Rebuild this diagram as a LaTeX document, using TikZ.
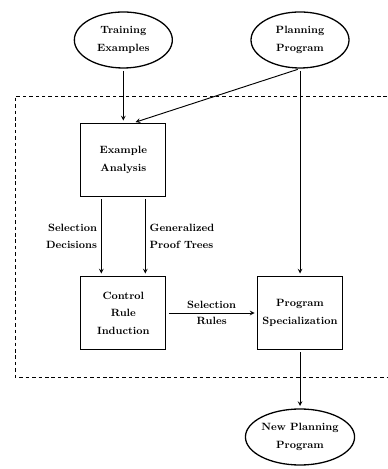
\documentclass[tikz,border=0pt]{standalone}
\usetikzlibrary{shapes.geometric,arrows}

\tikzstyle{Ends} = [draw, ellipse, line width=1.1pt,
                    minimum width=2.94cm,
                    minimum height=1.68cm,
                    inner sep=0pt, align=center,
                    font=\fontsize{9}{15}\selectfont\bfseries]
\tikzstyle{Steps} = [draw, rectangle, line width=1.1pt,
                     minimum width=2.55cm,
                     minimum height=2.19cm,
                     inner sep=0pt, align=center,
                     font=\fontsize{9}{15}\selectfont\bfseries]
\tikzstyle{Flow} = [->, >=stealth, thick,
                    shorten >=2pt, shorten <=2pt]
\tikzstyle{Tag} = [font=\fontsize{9}{15}\selectfont\bfseries]

\begin{document}
\begin{tikzpicture}

    \useasboundingbox (0, 0) rectangle (11.61, 14.07);

    % Input and output nodes
    \node (training) at (3.7, 12.87) [Ends]{Training\\Examples};
    \node (planning) at (9.0, 12.87) [Ends]{Planning\\Program};
    \node (newplan) at (9.0, 0.96) [Ends]{New Planning\\Program};

    % Learning steps
    \node (analysis) at (3.7, 9.27) [Steps]{Example\\Analysis};
    \node (induction) at (3.7, 4.68) [Steps]{Control\\Rule\\Induction};
    \node (special) at (9.0, 4.68) [Steps]{Program\\Specialization};

    % Dashed system border
    \draw [thick, dash pattern=on 3pt off 2.5pt]
        (11.61, 11.19) -- (0.45, 11.19) -- (0.45, 2.76) -- (11.61, 2.76);

    % Lines
    \draw [Flow] (training) -- (training |- analysis.north);
    \draw [Flow] (planning.south) -- ([xshift=0.3cm]analysis.north);
    \draw [Flow] (planning.south) -- (special.north);

    \draw [Flow] ([xshift=-0.66cm]analysis.south) -- ([xshift=-0.66cm]induction.north)
        node [Tag, midway, left, align=right]{Selection\\Decisions};
    \draw [Flow] ([xshift=0.66cm]analysis.south) -- ([xshift=0.66cm]induction.north)
        node [Tag, midway, right, align=left]{Generalized\\Proof Trees};

    \draw [Flow] (induction) -- (special)
        node [Tag, midway, above]{Selection}
        node [Tag, midway, below]{Rules};

    \draw [Flow] (special) -- (newplan);

\end{tikzpicture}
\end{document}
